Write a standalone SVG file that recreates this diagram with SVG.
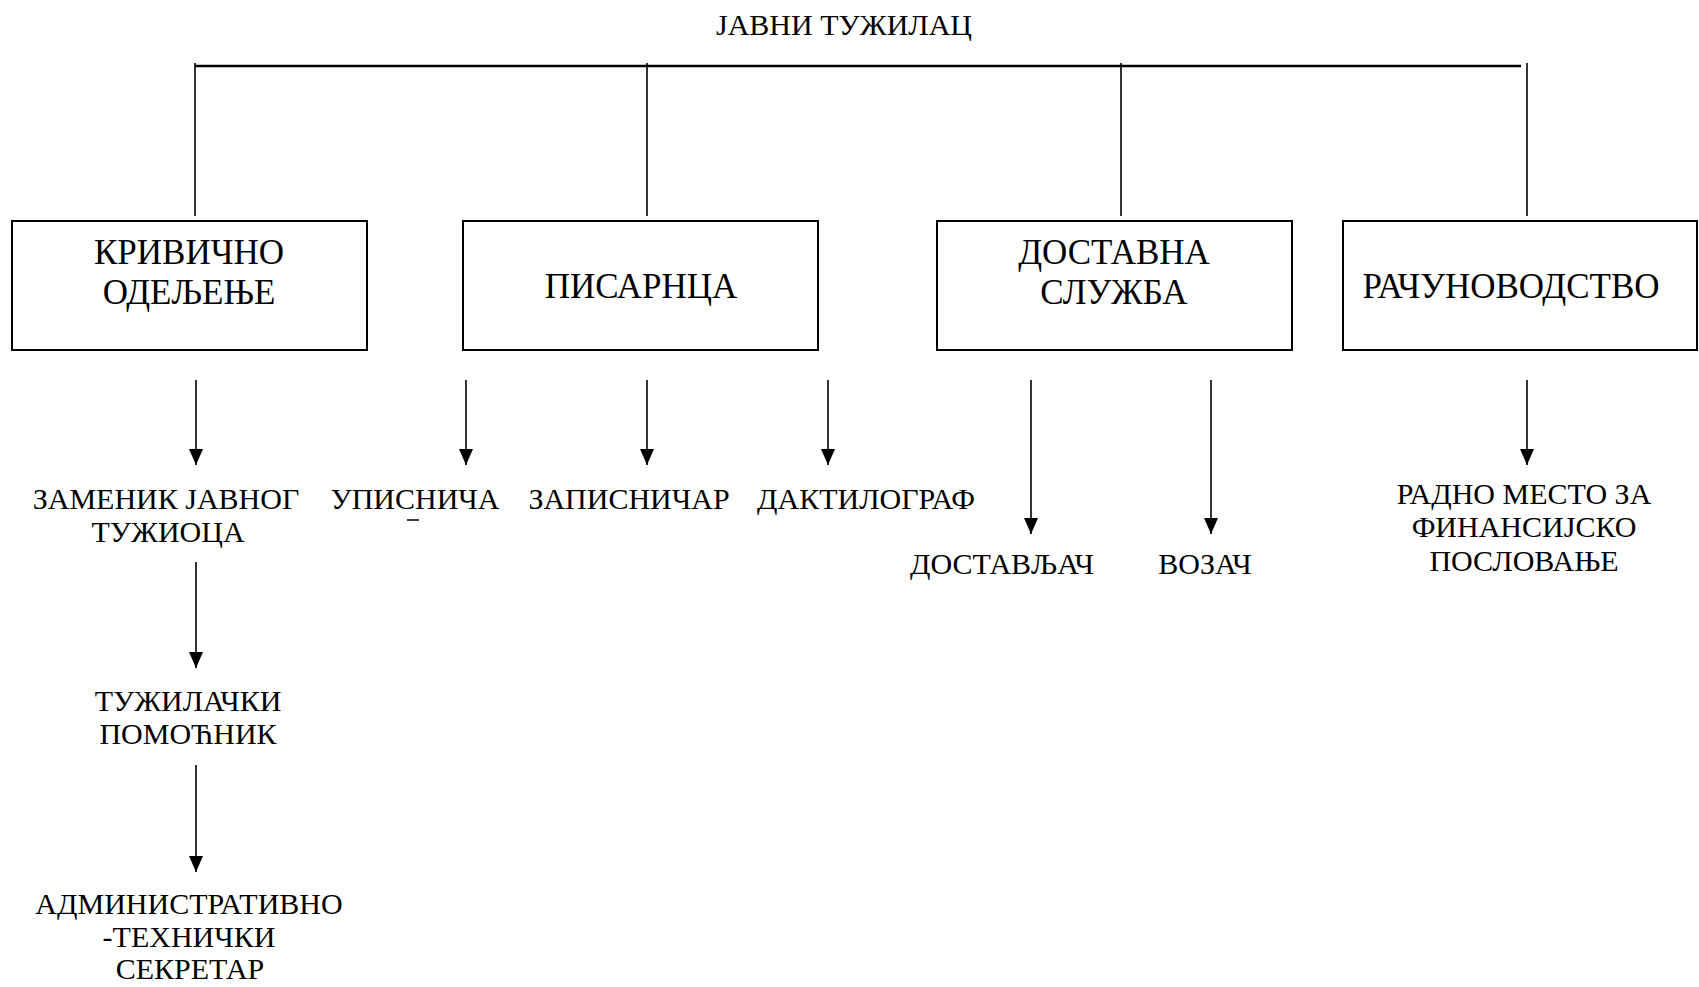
<svg xmlns="http://www.w3.org/2000/svg" width="1699" height="987" viewBox="0 0 1699 987">
<style>
text{font-family:"Liberation Serif","Times New Roman",serif;fill:#000;text-anchor:middle}
.t{font-size:30px}
.b{font-size:35px}
.s{font-size:30px}
.box{fill:#fff;stroke:#000;stroke-width:2}
.ln{stroke:#000;stroke-width:1.6;fill:none}
.ar{stroke:#000;stroke-width:1.6;fill:none;marker-end:url(#ah)}
</style>
<defs>
<marker id="ah" viewBox="0 0 16 14" refX="16" refY="7" markerWidth="16" markerHeight="14" markerUnits="userSpaceOnUse" orient="auto">
<path d="M0,0 L16,7 L0,14 z" fill="#000"/>
</marker>
</defs>
<rect width="1699" height="987" fill="#fff"/>
<g id="connectors">
<line x1="195" y1="66" x2="1521" y2="66" style="stroke:#000;stroke-width:2.5"/>
<line class="ln" x1="195" y1="63" x2="195" y2="216"/>
<line class="ln" x1="647" y1="63" x2="647" y2="216"/>
<line class="ln" x1="1121" y1="63" x2="1121" y2="216"/>
<line class="ln" x1="1527" y1="63" x2="1527" y2="216"/>
<line class="ar" x1="196" y1="380" x2="196" y2="465"/>
<line class="ar" x1="466" y1="380" x2="466" y2="465"/>
<line class="ar" x1="647" y1="380" x2="647" y2="465"/>
<line class="ar" x1="828" y1="380" x2="828" y2="465"/>
<line class="ar" x1="1031" y1="380" x2="1031" y2="534"/>
<line class="ar" x1="1211" y1="380" x2="1211" y2="534"/>
<line class="ar" x1="1527" y1="380" x2="1527" y2="465"/>
<line class="ar" x1="196" y1="562" x2="196" y2="668"/>
<line class="ar" x1="196" y1="765" x2="196" y2="872"/>
</g>
<g id="title"><text class="t" x="844" y="35">ЈАВНИ ТУЖИЛАЦ</text></g>
<g id="krivicno">
<rect class="box" x="12" y="221" width="355" height="129"/>
<text class="b" x="189" y="264">КРИВИЧНО</text>
<text class="b" x="189" y="304">ОДЕЉЕЊЕ</text>
</g>
<g id="pisarnica">
<rect class="box" x="463" y="221" width="355" height="129"/>
<text class="b" x="641" y="298">ПИСАРНЦА</text>
</g>
<g id="dostavna">
<rect class="box" x="937" y="221" width="355" height="129"/>
<text class="b" x="1114" y="264">ДОСТАВНА</text>
<text class="b" x="1114" y="304">СЛУЖБА</text>
</g>
<g id="racunovodstvo">
<rect class="box" x="1343" y="221" width="354" height="129"/>
<text class="b" x="1511" y="298">РАЧУНОВОДСТВО</text>
</g>
<g id="zamenik">
<text class="s" x="166" y="509">ЗАМЕНИК ЈАВНОГ</text>
<text class="s" x="168" y="542">ТУЖИОЦА</text>
</g>
<g id="upisnicar">
<text class="s" x="415" y="509">УПИСНИЧА</text>
<line x1="407" y1="520" x2="419" y2="520" style="stroke:#000;stroke-width:1.5"/>
</g>
<g id="zapisnicar"><text class="s" x="629" y="509">ЗАПИСНИЧАР</text></g>
<g id="daktilograf"><text class="s" x="866" y="509">ДАКТИЛОГРАФ</text></g>
<g id="pomocnik">
<text class="s" x="188" y="711">ТУЖИЛАЧКИ</text>
<text class="s" x="188" y="744">ПОМОЋНИК</text>
</g>
<g id="sekretar">
<text class="s" x="189" y="914">АДМИНИСТРАТИВНО</text>
<text class="s" x="189" y="947">-ТЕХНИЧКИ</text>
<text class="s" x="190" y="979">СЕКРЕТАР</text>
</g>
<g id="dostavljac"><text class="s" x="1002" y="574">ДОСТАВЉАЧ</text></g>
<g id="vozac"><text class="s" x="1205" y="574">ВОЗАЧ</text></g>
<g id="finansije">
<text class="s" x="1524" y="504">РАДНО МЕСТО ЗА</text>
<text class="s" x="1524" y="537">ФИНАНСИЈСКО</text>
<text class="s" x="1524" y="571">ПОСЛОВАЊЕ</text>
</g>
</svg>
